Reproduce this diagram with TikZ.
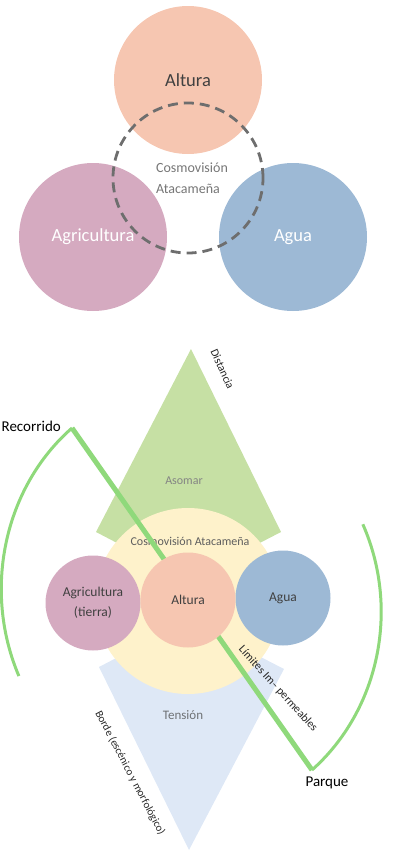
\documentclass[tikz,border=0pt]{standalone}
\usepackage{fontspec}
\setmainfont{Carlito}
\definecolor{peach}{HTML}{F6C6B1}
\definecolor{mauve}{HTML}{D5AAC0}
\definecolor{water}{HTML}{9DB9D5}
\definecolor{cream}{HTML}{FEF2CB}
\definecolor{leaf}{HTML}{C6E0A4}
\definecolor{sky}{HTML}{DEE8F6}
\definecolor{trail}{HTML}{8FD97B}
\definecolor{ringgray}{HTML}{6E6E6E}
\definecolor{txtdark}{HTML}{404040}
\definecolor{txtgray}{HTML}{767676}
\begin{document}
\begin{tikzpicture}[x=1pt,y=1pt,
    big_node/.style={circle,inner sep=0pt,minimum size=148pt,font=\fontsize{18.5}{22}\selectfont},
    small_node/.style={circle,inner sep=0pt,minimum size=95pt,text=txtdark,align=center,font=\fontsize{13.5}{20}\selectfont},
    ring_node/.style={circle,draw=ringgray,line width=2.8pt,dash pattern=on 10pt off 6pt,minimum size=150pt},
    trail_line/.style={draw=trail,line width=5pt},
    trail_arc/.style={draw=trail,line width=3pt},
    side_label/.style={text=black!85,font=\fontsize{11.5}{14}\selectfont},
    end_label/.style={text=black,font=\fontsize{15}{18}\selectfont}]
    \useasboundingbox (0,0) rectangle (393,-852);

    % upper diagram
    \node[big_node,fill=peach,text=txtdark] (alt) at (188,-80) {Altura};
    \node[big_node,fill=mauve,text=white] (agr) at (93,-237) {Agricultura};
    \node[big_node,fill=water,text=white] (agu) at (293,-237) {Agua};
    \node[ring_node] (ring) at (188,-178) {};
    \node[text=txtgray,align=left,font=\fontsize{14}{21}\selectfont] (cosmo) at (192,-178) {Cosmovisión\\Atacameña};

    % lower diagram
    \fill[leaf] (191,-349) -- (96,-532) -- (188,-580) -- (281,-532) -- cycle;
    \fill[sky] (189,-850) -- (99,-667) -- (189,-620) -- (284,-669) -- cycle;
    \node[circle,fill=cream,inner sep=0pt,minimum size=186pt] (core) at (188,-601) {};
    \node[text=txtgray!90,font=\fontsize{12}{14}\selectfont] (asomar) at (184,-481) {Asomar};
    \node[text=black!55!sky!60!gray,font=\fontsize{13}{15}\selectfont] (tension) at (183,-715) {Tensión};
    \node[text=txtgray!80!black,font=\fontsize{12}{14}\selectfont] (core_lbl) at (190,-541) {Cosmovisión Atacameña};

    \coordinate (rec) at (72,-428);
    \coordinate (par) at (312,-770);
    \draw[trail_line] (rec) -- (par);
    \draw[trail_arc] (rec) arc[start angle=128.6,end angle=205,x radius=188,y radius=206];
    \draw[trail_arc] (par) arc[start angle=-50.1,end angle=25.2,x radius=193,y radius=206];

    \node[small_node,fill=mauve] (agr2) at (93,-603) {Agricultura\\(tierra)};
    \node[small_node,fill=water] (agu2) at (283,-598) {Agua};
    \node[small_node,fill=peach] (alt2) at (188,-600) {Altura};

    \node[end_label,anchor=east,inner sep=1pt] (rec_lbl) at (62,-426) {Recorrido};
    \node[end_label] (par_lbl) at (327,-783) {Parque};
    \node[side_label,rotate=-65.9] (dist) at (222.5,-369) {Distancia};
    \node[side_label,rotate=-47.7] (limits) at (278,-689) {Límites Im– permeables};
    \node[side_label,font=\fontsize{11}{13}\selectfont,rotate=-62.3] (border) at (130,-773) {Borde (escénico y morfológico)};
\end{tikzpicture}
\end{document}
